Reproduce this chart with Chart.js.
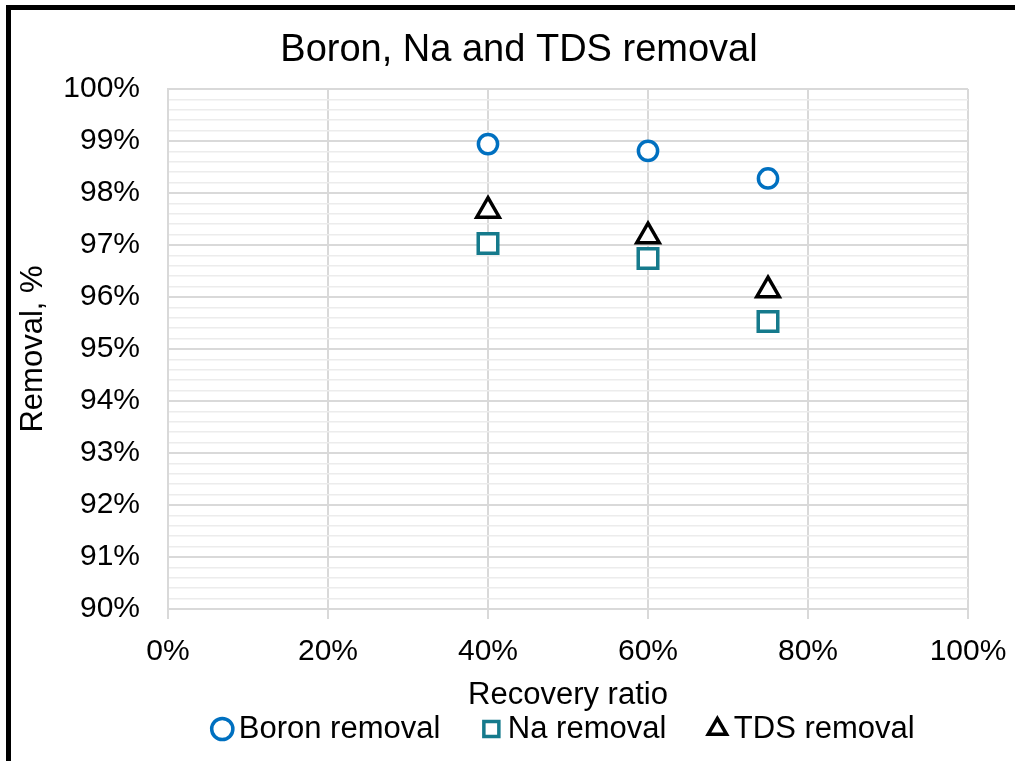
<!DOCTYPE html>
<html>
<head>
<meta charset="utf-8">
<title>Boron, Na and TDS removal</title>
<script src="https://cdn.jsdelivr.net/npm/chart.js@4.4.1/dist/chart.umd.min.js"></script>
<style>
    html, body { margin: 0; padding: 0; background: #fff; overflow: hidden; }
    #frame {
        position: absolute; left: 6px; top: 5px;
        width: 1100px; height: 900px;
        border: 5px solid #000; box-sizing: border-box;
    }
    #chart { position: absolute; left: 0; top: 0; }
</style>
</head>
<body>
<div id="frame"></div>
<canvas id="chart" width="1015" height="761"></canvas>
<script>
// values (percent)
const recoveryRatio = [40, 60, 75];
const boronRemoval = [98.94, 98.81, 98.28];
const naRemoval = [97.03, 96.74, 95.53];
const tdsRemoval = [97.66, 97.17, 96.13];
const seriesNames = ["Boron removal", "Na removal", "TDS removal"];

const xMin = 0, xMax = 100, xStep = 20;
const yMin = 90, yMax = 100, yStep = 0.2;   // labels only on whole percents

const toPoints = (ys) => recoveryRatio.map((x, i) => ({ x: x, y: ys[i] }));
const isMajor = (v) => Math.abs(v - Math.round(v)) < 1e-6;

Chart.defaults.font.family = "'Liberation Sans', Arial, sans-serif";
Chart.defaults.color = "#000";

const chartData = {
    datasets: [
        {
            label: seriesNames[0],
            data: toPoints(boronRemoval),
            pointStyle: "circle",
            pointRadius: 9.6,
            borderWidth: 3.5,
            borderColor: "#0070c0",
            backgroundColor: "#fff",
        },
        {
            label: seriesNames[1],
            data: toPoints(naRemoval),
            pointStyle: "rect",
            pointRadius: 13.8,
            borderWidth: 3.5,
            borderColor: "#157a8c",
            backgroundColor: "#fff",
        },
        {
            label: seriesNames[2],
            data: toPoints(tdsRemoval),
            pointStyle: "triangle",
            pointRadius: 13,
            borderWidth: 3.5,
            borderColor: "#000",
            backgroundColor: "#fff",
        },
    ],
};

const config = {
    type: "scatter",
    data: chartData,
    options: {
        responsive: false,
        animation: false,
        events: [],
        layout: { padding: { left: 23, right: 0, top: 0, bottom: 6.5 } },
        plugins: {
            title: {
                display: true,
                text: "Boron, Na and TDS removal",
                font: { size: 38, weight: "normal" },
                color: "#000",
                padding: { top: 28, bottom: 15.4 },
            },
            legend: {
                position: "bottom",
                fullSize: false,
                labels: {
                    usePointStyle: true,
                    boxWidth: 2,
                    boxHeight: 15,
                    padding: 50,
                    font: { size: 31 },
                    color: "#000",
                },
            },
            tooltip: { enabled: false },
        },
        scales: {
            x: {
                type: "linear",
                min: xMin,
                max: xMax,
                afterFit: (s) => {
                    s.height = 54.5;
                    s.paddingRight = 47;
                },
                ticks: {
                    stepSize: xStep,
                    padding: 15,
                    font: { size: 30 },
                    color: "#000",
                    callback: (v) => v + "%",
                },
                grid: {
                    color: "#d9d9d9",
                    lineWidth: 2,
                    tickLength: 10,
                    tickColor: "#d9d9d9",
                    tickWidth: 2,
                },
                border: { color: "#d9d9d9", width: 2 },
                title: {
                    display: true,
                    text: "Recovery ratio",
                    font: { size: 31 },
                    color: "#000",
                    padding: { top: 0, bottom: -51 },
                },
            },
            y: {
                min: yMin,
                max: yMax,
                afterFit: (s) => {
                    s.width = 145;
                },
                ticks: {
                    stepSize: yStep,
                    autoSkip: false,
                    padding: 28,
                    font: { size: 30 },
                    color: "#000",
                    callback: (v) => (isMajor(v) ? Math.round(v) + "%" : ""),
                },
                grid: {
                    drawTicks: false,
                    color: (ctx) => (isMajor(ctx.tick.value) ? "#d9d9d9" : "#ececec"),
                    lineWidth: (ctx) => (isMajor(ctx.tick.value) ? 2 : 1.5),
                },
                border: { color: "#d9d9d9", width: 2 },
                title: {
                    display: true,
                    text: "Removal, %",
                    font: { size: 31 },
                    color: "#000",
                    padding: { top: -8.6, bottom: 0 },
                },
            },
        },
    },
};

const removalChart = new Chart(document.getElementById("chart"), config);
</script>
</body>
</html>
